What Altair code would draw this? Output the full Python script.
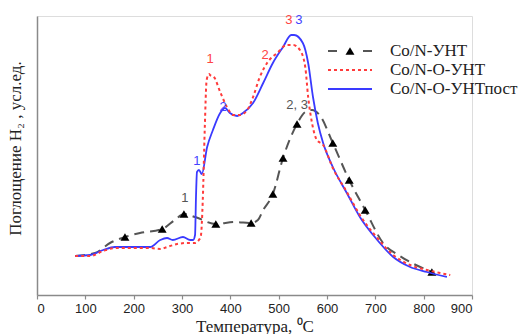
import altair as alt
import pandas as pd

# ---- data (temperature °C, H2 uptake arb. units) ----
black_T = [79, 120, 151, 182, 213, 259, 285, 304, 327, 370, 410, 443, 457, 468, 488, 509, 538, 555, 569, 586, 612, 646, 679, 716, 751, 817]
black_V = [40, 43, 53, 59, 63, 67, 76, 82, 79, 72, 74, 73, 76, 86, 102, 138, 172, 184, 186, 180, 153, 116, 86, 53, 40, 24]

marker_T = [182, 259, 304, 370, 443, 488, 509, 538, 612, 646, 679, 817]
marker_V = [59, 67, 82, 72, 73, 102, 138, 172, 153, 116, 86, 24]

red_T = [79, 110, 137, 161, 234, 255, 269, 290, 310, 327, 335, 339, 343, 347, 351, 356, 358, 366, 379, 393, 406, 420, 435, 447, 461, 476, 497, 517, 530, 544, 555, 561, 569, 579, 592, 612, 641, 668, 704, 737, 772, 807, 855]
red_V = [40, 40, 45, 48, 48, 47, 49, 52, 53, 53, 56, 60, 96, 166, 216, 222, 221, 219, 204, 189, 181, 181, 186, 199, 219, 233, 243, 251, 251, 246, 229, 199, 173, 156, 151, 128, 104, 81, 58, 41, 31, 26, 21]

blue_T = [79, 110, 137, 161, 186, 234, 255, 269, 281, 302, 317, 323, 327, 329, 331, 335, 341, 352, 364, 379, 389, 399, 414, 426, 447, 468, 488, 509, 526, 532, 550, 561, 571, 581, 592, 612, 641, 668, 704, 737, 772, 807, 848]
blue_V = [40, 41, 46, 49, 49, 49, 56, 58, 56, 59, 56, 56, 61, 100, 124, 126, 122, 149, 166, 183, 188, 183, 180, 183, 193, 213, 233, 249, 261, 261, 253, 233, 199, 173, 153, 129, 103, 79, 56, 39, 29, 24, 19]

note_text = ["1", "2, 3", "1", "2", "3", "1", "2", "3"]
note_T = [306, 538, 358, 472, 521, 331, 385, 542]
note_V = [98, 191, 237, 241, 276, 135, 189, 276]
note_color = ["#555555", "#555555", "#ff4444", "#ff4444", "#ff4444", "#4444ff", "#4444ff", "#4444ff"]

legend_labels = ["Co/N-УНТ", "Co/N-O-УНТ", "Co/N-O-УНТпост"]

x_ticks = list(range(0, 901, 50))

GRAY = "#555555"
RED = "#ff3b3b"
BLUE = "#3a3aff"

xscale = alt.Scale(domain=[0, 900], nice=False, zero=False)
yscale = alt.Scale(domain=[1, 280], nice=False, zero=False)

xaxis = alt.Axis(
    values=x_ticks,
    labelExpr="datum.value % 100 == 0 ? datum.label : ''",
    title="Температура, ⁰C",
    grid=False,
    domainColor="#8a8a8a", domainWidth=1.5,
    tickColor="#8a8a8a", tickSize=4, tickWidth=1.2,
    labelFont="Liberation Sans", labelFontSize=13, labelColor="#222222", labelPadding=3,
    titleFont="Liberation Serif", titleFontSize=17, titleFontWeight="normal",
    titleColor="#222222", titlePadding=3,
)
yaxis = alt.Axis(
    title="Поглощение H₂ , усл.ед.",
    grid=False, ticks=False, labels=False,
    domainColor="#8a8a8a", domainWidth=1.5,
    titleFont="Liberation Serif", titleFontSize=17, titleFontWeight="normal",
    titleColor="#222222", titleAngle=-90, titleX=-22, titleY=132,
    titleAlign="center", titleBaseline="middle",
)

df_black = pd.DataFrame({"T": black_T, "V": black_V})
df_mark = pd.DataFrame({"T": marker_T, "V": marker_V})
df_red = pd.DataFrame({"T": red_T, "V": red_V})
df_blue = pd.DataFrame({"T": blue_T, "V": blue_V})
df_note = pd.DataFrame({"t": note_text, "T": note_T, "V": note_V, "c": note_color})

X = alt.X("T:Q", scale=xscale, axis=xaxis)
Y = alt.Y("V:Q", scale=yscale, axis=yaxis)

black_line = alt.Chart(df_black).mark_line(
    color=GRAY, strokeWidth=2, strokeDash=[10, 6], interpolate="monotone"
).encode(x=X, y=Y)
markers = alt.Chart(df_mark).mark_point(
    shape="triangle-up", filled=True, color="black", size=80, opacity=1
).encode(x="T:Q", y="V:Q")
blue_line = alt.Chart(df_blue).mark_line(
    color=BLUE, strokeWidth=1.8, interpolate="monotone"
).encode(x="T:Q", y="V:Q")
red_line = alt.Chart(df_red).mark_line(
    color=RED, strokeWidth=2, strokeDash=[3, 3], interpolate="monotone"
).encode(x="T:Q", y="V:Q")
notes = alt.Chart(df_note).mark_text(
    font="Liberation Sans", fontSize=13, align="center", baseline="middle"
).encode(x="T:Q", y="V:Q", text="t:N", color=alt.Color("c:N", scale=None))

# ---- manual legend ----
leg_df = pd.DataFrame({"label": legend_labels})
row_y = [35, 54, 73]
x0, x1, xt = 291, 335, 353
legend_layers = []
legend_layers.append(alt.Chart(leg_df.iloc[:1]).mark_rule(color=GRAY, strokeWidth=2).encode(
    x=alt.value(x0), x2=alt.value(x0 + 9), y=alt.value(row_y[0])))
legend_layers.append(alt.Chart(leg_df.iloc[:1]).mark_rule(color=GRAY, strokeWidth=2).encode(
    x=alt.value(x1 - 9), x2=alt.value(x1), y=alt.value(row_y[0])))
legend_layers.append(alt.Chart(leg_df.iloc[:1]).mark_point(
    shape="triangle-up", filled=True, color="black", size=80, opacity=1).encode(
    x=alt.value((x0 + x1) / 2), y=alt.value(row_y[0])))
legend_layers.append(alt.Chart(leg_df.iloc[1:2]).mark_rule(color=RED, strokeWidth=2, strokeDash=[3, 3]).encode(
    x=alt.value(x0), x2=alt.value(x1), y=alt.value(row_y[1])))
legend_layers.append(alt.Chart(leg_df.iloc[2:3]).mark_rule(color=BLUE, strokeWidth=1.8).encode(
    x=alt.value(x0), x2=alt.value(x1), y=alt.value(row_y[2])))
for i in range(3):
    legend_layers.append(alt.Chart(leg_df.iloc[i:i + 1]).mark_text(
        font="Liberation Serif", fontSize=17, align="left", baseline="middle", color="#222222"
    ).encode(x=alt.value(xt), y=alt.value(row_y[i]), text="label:N"))

chart = alt.layer(black_line, markers, blue_line, red_line, notes, *legend_layers).properties(
    width=435, height=279,
    padding={"left": 37, "top": 16, "right": 50, "bottom": 39},
    autosize=alt.AutoSizeParams(type="none"),
).configure_view(stroke=None).configure(background="white")

chart.save("out.html", embed_options={"renderer": "svg", "actions": False})
